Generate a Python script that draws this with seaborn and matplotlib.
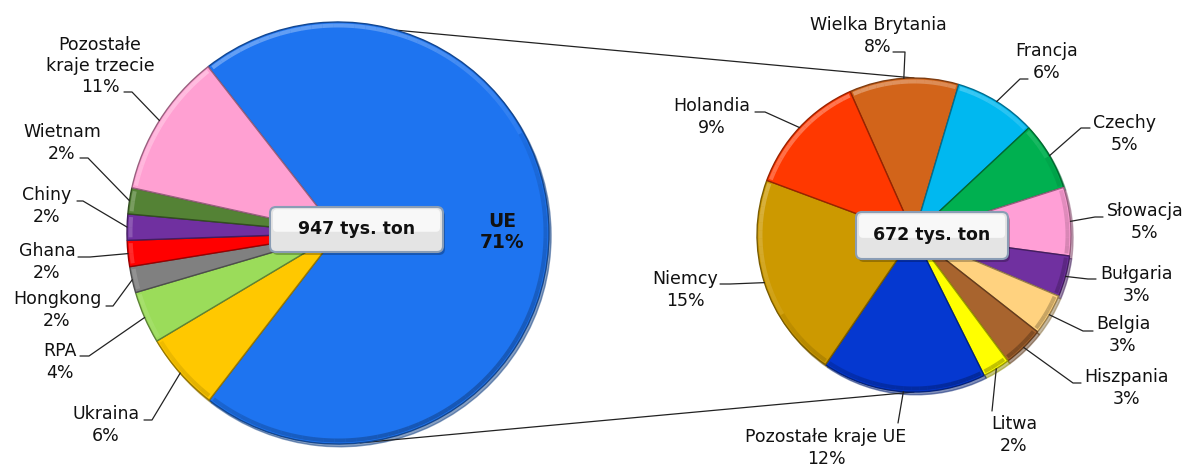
import numpy as np
import matplotlib
matplotlib.use("Agg")
import matplotlib.pyplot as plt
import matplotlib.colors as mcolors
from matplotlib.patches import FancyBboxPatch, Wedge
import seaborn as sns

sns.set_theme(style="white")
plt.rcParams['font.family'] = ['DejaVu Sans']

# --- data: left pie (import structure, % of total) ---
left_names = ["UE", "Ukraina", "RPA", "Hongkong", "Ghana", "Chiny", "Wietnam",
              "Pozostałe\nkraje trzecie"]
left_values = [71, 6, 4, 2, 2, 2, 2, 11]
left_colors = ["#1E74F0", "#FFC800", "#9BDC5A", "#808080", "#FF0000",
               "#7030A0", "#548235", "#FFA0D2"]
left_total = "947 tys. ton"

# --- data: right pie (EU breakdown, % of total) ---
right_names = ["Wielka Brytania", "Francja", "Czechy", "Słowacja", "Bułgaria",
               "Belgia", "Hiszpania", "Litwa", "Pozostałe kraje UE", "Niemcy",
               "Holandia"]
right_values = [8, 6, 5, 5, 3, 3, 3, 2, 12, 15, 9]
right_colors = ["#D2641A", "#00B8F0", "#00B050", "#FF9FD6", "#7030A0",
                "#FFD27F", "#A8642E", "#FFFF00", "#0538D0", "#CC9900",
                "#FF3800"]
right_total = "672 tys. ton"

W, H = 1188, 466


def px(x, y):
    # pixel coords (top-left origin) -> data coords
    return x, H - y


# label layout in pixels: text centre, elbow start, elbow end
left_layout = {
    "Ukraina": ((106, 425), (144, 420), (152, 420)),
    "RPA": ((60, 362), (80, 356), (89, 356)),
    "Hongkong": ((57, 310), (106, 306), (113, 306)),
    "Ghana": ((47, 262), (78, 257), (90, 257)),
    "Chiny": ((47, 206), (77, 201), (83, 201)),
    "Wietnam": ((62, 143), (80, 158), (88, 158)),
    "Pozostałe\nkraje trzecie": ((100, 66), (124, 92), (132, 92)),
}
right_layout = {
    "Wielka Brytania": ((878, 36), (893, 52), (905, 52)),
    "Francja": ((1047, 62), (1028, 79), (1020, 79)),
    "Czechy": ((1125, 134), (1090, 128), (1081, 128)),
    "Słowacja": ((1145, 222), (1103, 217), (1095, 217)),
    "Bułgaria": ((1137, 285), (1096, 279), (1088, 279)),
    "Belgia": ((1123, 335), (1093, 331), (1083, 331)),
    "Hiszpania": ((1127, 388), (1081, 383), (1073, 383)),
    "Litwa": ((1014, 435), (992, 411), (992, 411)),
    "Pozostałe kraje UE": ((826, 448), (898, 423), (898, 423)),
    "Niemcy": ((685, 290), (720, 284), (730, 284)),
    "Holandia": ((712, 117), (755, 112), (765, 112)),
}

fig = plt.figure(figsize=(W / 100, H / 100), dpi=100)
ax = fig.add_axes([0, 0, 1, 1])

lc, lr, lstart = px(338, 233), 211, 128
rc, rr, rstart = px(914, 235), 157, 114


def shade(c, f):
    rgb = np.array(mcolors.to_rgb(c))
    if f < 0:
        return tuple(rgb * (1 + f))
    return tuple(rgb + (1 - rgb) * f)


def draw_pie(values, colors, center, radius, start):
    wedges, _ = ax.pie(values, colors=colors, startangle=start,
                       counterclock=False, center=center, radius=radius,
                       shadow={"ox": 1.5, "oy": -2, "shade": 0.45},
                       wedgeprops=dict(linewidth=1.0))
    for w, c in zip(wedges, colors):
        w.set_edgecolor(shade(c, -0.4))
        w.set_zorder(3)
        # bevelled rim: light towards the top-left, dark towards bottom-right
        t1, t2 = w.theta1, w.theta2
        steps = max(2, int((t2 - t1) / 3))
        edges = np.linspace(t1 + 0.8, t2 - 0.8, steps + 1)
        for a, b in zip(edges[:-1], edges[1:]):
            k = np.cos(np.deg2rad((a + b) / 2 - 120))
            col = shade(c, 0.45) if k > 0 else shade(c, -0.35)
            ax.add_patch(Wedge(center, radius - 1.5, a, b, width=4,
                               facecolor=col, alpha=0.15 + 0.55 * abs(k),
                               edgecolor="none", zorder=4))
    return wedges


def edge_point(w, center, radius):
    a = np.deg2rad((w.theta1 + w.theta2) / 2)
    return center[0] + radius * np.cos(a), center[1] + radius * np.sin(a)


# connector lines between the pies
for a_l, a_r in [(74, 90), (-84, -90)]:
    p1 = (lc[0] + lr * np.cos(np.deg2rad(a_l)), lc[1] + lr * np.sin(np.deg2rad(a_l)))
    p2 = (rc[0] + rr * np.cos(np.deg2rad(a_r)), rc[1] + rr * np.sin(np.deg2rad(a_r)))
    ax.plot([p1[0], p2[0]], [p1[1], p2[1]], color="#222222", lw=0.9, zorder=1)

lw_ = draw_pie(left_values, left_colors, lc, lr, lstart)
rw_ = draw_pie(right_values, right_colors, rc, rr, rstart)

# pie() resets the limits, so set the pixel frame afterwards
ax.set_xlim(0, W)
ax.set_ylim(0, H)
ax.set_aspect("equal")
ax.axis("off")

fs = 12.5
for names, vals, wedges, layout, center, radius in [
        (left_names, left_values, lw_, left_layout, lc, lr),
        (right_names, right_values, rw_, right_layout, rc, rr)]:
    for name, v, w in zip(names, vals, wedges):
        if name not in layout:
            continue
        tpos, e1, e2 = layout[name]
        ep = edge_point(w, center, radius)
        xs = [px(*e1)[0], px(*e2)[0], ep[0]]
        ys = [px(*e1)[1], px(*e2)[1], ep[1]]
        ax.plot(xs, ys, color="#222222", lw=0.9, zorder=5)
        ax.text(*px(*tpos), f"{name}\n{v}%", ha="center", va="center",
                fontsize=fs, color="#111111", linespacing=1.25, zorder=6)

# UE label inside the big wedge
ax.text(*px(502, 232), f"{left_names[0]}\n{left_values[0]}%", ha="center",
        va="center", fontsize=13.5, fontweight="bold", color="#111111",
        linespacing=1.15, zorder=6)


def total_box(x0, y0, x1, y1, text):
    bx, by = px(x0, y1)
    w, h = x1 - x0, y1 - y0
    sh = FancyBboxPatch((bx + 2, by - 3), w, h, boxstyle="round,pad=0,rounding_size=6",
                        facecolor="#000000", alpha=0.25, edgecolor="none", zorder=7)
    ax.add_patch(sh)
    box = FancyBboxPatch((bx, by), w, h, boxstyle="round,pad=0,rounding_size=6",
                         facecolor="#E4E4E4", edgecolor="#8A9DB5", lw=1.5, zorder=8)
    ax.add_patch(box)
    hl = FancyBboxPatch((bx + 3, by + h * 0.45), w - 6, h * 0.5,
                        boxstyle="round,pad=0,rounding_size=4",
                        facecolor="#FFFFFF", alpha=0.75, edgecolor="none", zorder=8)
    ax.add_patch(hl)
    ax.text(bx + w / 2, by + h / 2, text, ha="center", va="center",
            fontsize=fs, fontweight="bold", color="#111111", zorder=9)


total_box(270, 207, 443, 252, left_total)
total_box(856, 212, 1008, 259, right_total)

fig.savefig("out.png", dpi=100, facecolor="white")
